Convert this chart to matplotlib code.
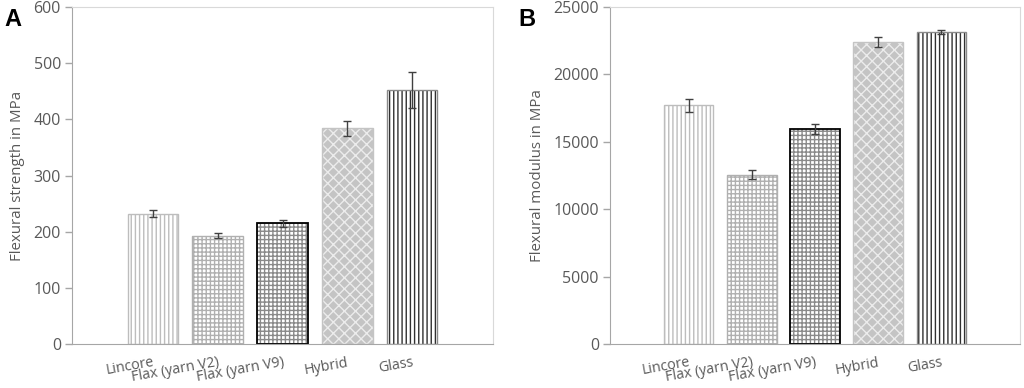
import numpy as np
import matplotlib
matplotlib.use('Agg')
import matplotlib.pyplot as plt

categories = ['Lincore', 'Flax (yarn V2)', 'Flax (yarn V9)', 'Hybrid', 'Glass']
strength = [232, 193, 215, 384, 453]
strength_err = [6, 4.5, 6, 13.5, 32]
modulus = [17700, 12550, 15930, 22400, 23150]
modulus_err = [500, 330, 370, 370, 160]

# per-bar look: face, hatch colour, hatch, edge colour, edge width
styles = [
    ('white', '#bdbdbd', '||||', '#bdbdbd', 1.0),
    ('white', '#b0b0b0', '++++', '#b0b0b0', 1.0),
    ('white', '#8a8a8a', '++++', '#000000', 1.3),
    ('#c4c4c4', '#ececec', 'xxx', '#c4c4c4', 1.0),
    ('white', '#303030', '||||', '#8a8a8a', 1.0),
]

plt.rcParams['font.family'] = ['Open Sans', 'DejaVu Sans']
plt.rcParams['hatch.linewidth'] = 1.0

fig = plt.figure(figsize=(10.24, 3.88), dpi=100)
ax_a = fig.add_axes([72/1024, 1-344/388, (493-72)/1024, 337/388])
ax_b = fig.add_axes([610/1024, 1-344/388, (1020-610)/1024, 337/388])

gray = '#595959'

def draw(ax, vals, errs, ymax, ystep, ylabel):
    x = np.arange(len(vals))
    for i, (v, e) in enumerate(zip(vals, errs)):
        face, hc, hatch, ec, lw = styles[i]
        ax.bar(x[i], v, width=0.78, color=face, edgecolor=hc, hatch=hatch, linewidth=0)
        ax.bar(x[i], v, width=0.78, color='none', edgecolor=ec, linewidth=lw)
    ax.errorbar(x, vals, yerr=errs, fmt='none', ecolor='#404040', elinewidth=1, capsize=3, capthick=1)
    ax.set_xlim(-1.25, 5.25)
    ax.set_ylim(0, ymax)
    ax.set_yticks(np.arange(0, ymax + 1, ystep))
    ax.set_xticks(x)
    ax.set_xticklabels(categories, rotation=10, ha='right', va='top', rotation_mode='anchor')
    ax.tick_params(axis='x', length=0, pad=8, labelsize=10.3, labelcolor=gray)
    ax.tick_params(axis='y', length=5, width=1, color='#a6a6a6', labelsize=11.5, labelcolor=gray, pad=3)
    for s in ['top', 'right']:
        ax.spines[s].set_color('#d9d9d9')
    for s in ['left', 'bottom']:
        ax.spines[s].set_color('#a6a6a6')
    ax.set_ylabel(ylabel, fontsize=10.8, color=gray, labelpad=6)

draw(ax_a, strength, strength_err, 600, 100, 'Flexural strength in MPa')
draw(ax_b, modulus, modulus_err, 25000, 5000, 'Flexural modulus in MPa')

fig.text(4/1024, 1-19/388, 'A', fontsize=17, fontweight='bold', family='Liberation Sans', va='center')
fig.text(518/1024, 1-19/388, 'B', fontsize=17, fontweight='bold', family='Liberation Sans', va='center')

fig.savefig('out.png', dpi=100)
